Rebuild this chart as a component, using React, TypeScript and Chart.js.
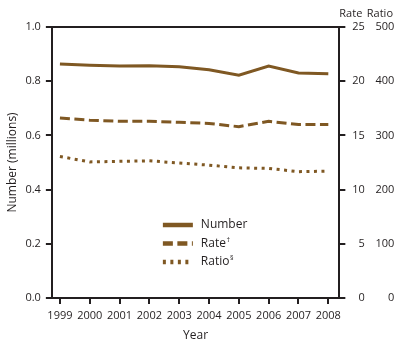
import React, { useEffect, useRef } from "react";
import { Chart, registerables } from "chart.js";

Chart.register(...registerables);

// ---- data ----
const years = [1999, 2000, 2001, 2002, 2003, 2004, 2005, 2006, 2007, 2008];
const numberMillions = [0.863, 0.859, 0.856, 0.857, 0.853, 0.842, 0.822, 0.856, 0.83, 0.827];
const rateValues = [16.6, 16.4, 16.3, 16.3, 16.2, 16.1, 15.8, 16.3, 16.0, 16.0];
const ratioValues = [261, 251, 252, 253, 249, 245, 240, 239, 233, 234];
const numberTicks = [0, 0.2, 0.4, 0.6, 0.8, 1.0];
const rateTicks = [0, 5, 10, 15, 20, 25];
const ratioTicks = [0, 100, 200, 300, 400, 500];
const legendLabels = ["Number", "Rate", "Ratio"];
const legendMarks = ["", "†", "§"];

const BROWN = "#7f5823";
const INK = "#231f20";
const FONT = "'Open Sans', sans-serif";
const DASHES: number[][] = [[], [10, 4.5], [3, 4.5]];
const RATE_PAD = 3.4;
const RATIO_PAD = 5.4;

const overlay = {
  id: "overlay",
  afterDraw(chart: any) {
    const { ctx, chartArea: a, scales } = chart;
    ctx.save();
    // top frame line
    ctx.strokeStyle = INK;
    ctx.lineWidth = 2;
    ctx.beginPath();
    ctx.moveTo(a.left - 1, a.top);
    ctx.lineTo(a.right + 1, a.top);
    ctx.stroke();
    // right-axis headers
    ctx.fillStyle = INK;
    ctx.font = `11px ${FONT}`;
    ctx.textAlign = "right";
    ctx.textBaseline = "middle";
    ctx.fillText("Rate", scales.yRate.right - RATE_PAD + 1, a.top - 13);
    ctx.fillText("Ratio", scales.yRatio.right - RATIO_PAD + 4, a.top - 13);
    // legend
    const lx = a.left + 111;
    const ly = a.top + 198;
    legendLabels.forEach((lab, i) => {
      const y = ly + i * 18.5;
      ctx.setLineDash(DASHES[i]);
      ctx.strokeStyle = BROWN;
      ctx.lineWidth = 4.5;
      ctx.beginPath();
      ctx.moveTo(lx, y);
      ctx.lineTo(lx + 30, y);
      ctx.stroke();
      ctx.setLineDash([]);
      ctx.fillStyle = INK;
      ctx.textAlign = "left";
      ctx.textBaseline = "middle";
      ctx.font = `12px ${FONT}`;
      ctx.fillText(lab, lx + 38, y);
      if (legendMarks[i]) {
        const w = ctx.measureText(lab).width;
        ctx.font = `7px ${FONT}`;
        ctx.fillText(legendMarks[i], lx + 38 + w + 0.5, y - 4);
      }
    });
    ctx.restore();
  },
};

export default function App() {
  const ref = useRef<HTMLCanvasElement | null>(null);

  useEffect(() => {
    if (!ref.current) return;
    const tickFont = { family: FONT, size: 11 };
    const titleFont = { family: FONT, size: 12 };
    const mk = (vals: number[]) => years.map((x, i) => ({ x, y: vals[i] }));
    const chart = new Chart(ref.current, {
      type: "line",
      data: {
        datasets: [
          {
            label: "Number",
            data: mk(numberMillions),
            yAxisID: "y",
            borderColor: BROWN,
            borderWidth: 3,
            pointRadius: 0,
            tension: 0,
          },
          {
            label: "Rate",
            data: mk(rateValues),
            yAxisID: "yRate",
            borderColor: BROWN,
            borderWidth: 3,
            borderDash: DASHES[1],
            pointRadius: 0,
            tension: 0,
          },
          {
            label: "Ratio",
            data: mk(ratioValues),
            yAxisID: "yRatio",
            borderColor: BROWN,
            borderWidth: 3,
            borderDash: DASHES[2],
            pointRadius: 0,
            tension: 0,
          },
        ],
      },
      options: {
        animation: false,
        responsive: false,
        layout: { padding: { left: 3, right: 6.6, top: 27, bottom: 3 } },
        plugins: { legend: { display: false }, tooltip: { enabled: false } },
        scales: {
          x: {
            type: "linear",
            min: 1998.73,
            max: 2008.37,
            afterBuildTicks: (s: any) => {
              s.ticks = years.map((v) => ({ value: v }));
            },
            border: { display: true, color: INK, width: 2 },
            grid: { drawOnChartArea: false, color: INK, lineWidth: 2, tickLength: 6 },
            ticks: {
              font: tickFont,
              color: INK,
              padding: 5.5,
              maxRotation: 0,
              autoSkip: false,
              callback: (v: any) => String(v),
            },
            title: { display: true, text: "Year", font: titleFont, color: INK, padding: { top: 0.5, bottom: 0 } },
          },
          y: {
            position: "left",
            min: 0,
            max: 1,
            afterBuildTicks: (s: any) => {
              s.ticks = numberTicks.map((v) => ({ value: v }));
            },
            border: { display: true, color: INK, width: 2 },
            grid: { drawOnChartArea: false, color: INK, lineWidth: 2, tickLength: 6 },
            ticks: { font: tickFont, color: INK, padding: 5, callback: (v: any) => Number(v).toFixed(1) },
            title: {
              display: true,
              text: "Number (millions)",
              font: titleFont,
              color: INK,
              padding: { top: 2, bottom: 1 },
            },
          },
          yRate: {
            position: "right",
            min: 0,
            max: 25,
            afterBuildTicks: (s: any) => {
              s.ticks = rateTicks.map((v) => ({ value: v }));
            },
            border: { display: true, color: INK, width: 2 },
            grid: { drawOnChartArea: false, color: INK, lineWidth: 2, tickLength: 6 },
            ticks: { font: tickFont, color: INK, padding: RATE_PAD, crossAlign: "far" },
          },
          yRatio: {
            position: "right",
            min: 0,
            max: 500,
            afterBuildTicks: (s: any) => {
              s.ticks = ratioTicks.map((v) => ({ value: v }));
            },
            border: { display: false },
            grid: { display: false, drawTicks: false, drawOnChartArea: false },
            ticks: { font: tickFont, color: INK, padding: RATIO_PAD, crossAlign: "far" },
          },
        },
      } as any,
      plugins: [overlay],
    });
    return () => chart.destroy();
  }, []);

  return (
    <div style={{ position: "fixed", left: 0, top: 0, width: 401, height: 346, background: "#fff" }}>
      <canvas ref={ref} width={401} height={346} style={{ width: 401, height: 346 }} />
    </div>
  );
}
